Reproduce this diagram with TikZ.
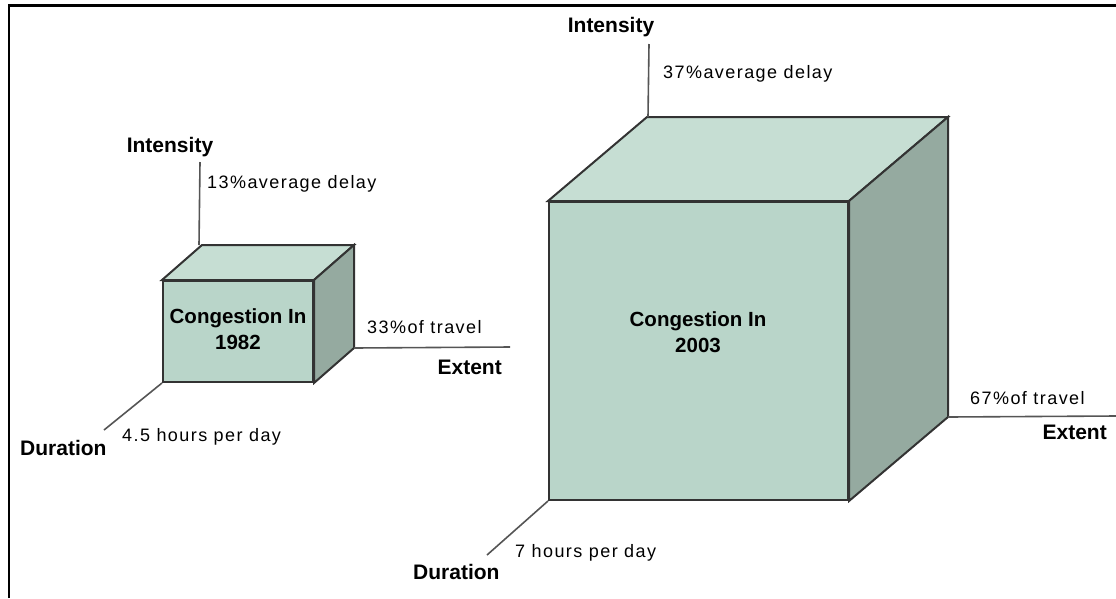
\documentclass[tikz,border=0pt]{standalone}
\usepackage{fontspec}
\usetikzlibrary{calc}
\setmainfont{Liberation Sans}
\newfontfamily\lblfont[LetterSpace=8]{Liberation Sans}
\definecolor{frontc}{HTML}{B9D5C9}
\definecolor{topc}{HTML}{C6DED3}
\definecolor{sidec}{HTML}{95AAA0}
\definecolor{edgec}{HTML}{333333}
\definecolor{axisc}{HTML}{555555}
\tikzset{
  face/.style={draw=edgec, line width=2pt, line join=miter},
  frontface/.style={face, fill=frontc, rectangle, inner sep=0pt},
  axisline/.style={draw=axisc, line width=1.6pt},
  val/.style={inner sep=0pt, text height=13pt, text depth=0pt, font=\lblfont\fontsize{18pt}{20pt}\selectfont},
  axname/.style={inner sep=0pt, text height=15pt, text depth=0pt, font=\bfseries\fontsize{21pt}{23pt}\selectfont},
  cubelabel/.style={inner sep=0pt, align=center, font=\bfseries\fontsize{20.5pt}{26pt}\selectfont},
  frame/.style={draw=black, line width=2.6pt}
}
\begin{document}
\begin{tikzpicture}[x=1pt,y=-1pt]
\useasboundingbox (0,0) rectangle (1116,598);
% frame
\coordinate (fl) at (9,598);
\coordinate (fc) at (9,5.5);
\coordinate (fr) at (1116,5.5);
\draw[frame] (fl) -- (fc) -- (fr);

% ---------- small cube (1982) ----------
\node[frontface, minimum width=150pt, minimum height=101pt] (f1) at (238,331.5) {};
\coordinate (t1l) at ($(f1.north west)+(40,-35)$);
\coordinate (t1r) at ($(f1.north east)+(40,-35)$);
\coordinate (b1r) at ($(f1.south east)+(40,-35)$);
\filldraw[face, fill=topc] (f1.north west) -- (t1l) -- (t1r) -- (f1.north east) -- cycle;
\filldraw[face, fill=sidec] (f1.north east) -- (t1r) -- (b1r) -- (f1.south east) -- cycle;
\node[cubelabel] (l1) at (238,329) {Congestion In\\1982};
% axes
\coordinate (i1) at (200,162);
\coordinate (e1) at (510,347);
\coordinate (d1) at (104,430);
\draw[axisline] ($(t1l)+(-3,0)$) -- (i1);
\draw[axisline] (b1r) -- (e1);
\draw[axisline] (f1.south west) -- (d1);
\node[axname, anchor=center] (n1i) at (170,145) {Intensity};
\node[val, anchor=west] (v1i) at (207,182) {13\%average delay};
\node[val, anchor=west] (v1e) at (367,327) {33\%of travel};
\node[axname, anchor=east] (n1e) at (502,367) {Extent};
\node[val, anchor=west] (v1d) at (122,435) {4.5 hours per day};
\node[axname, anchor=west] (n1d) at (20,448) {Duration};

% ---------- large cube (2003) ----------
\node[frontface, minimum width=299pt, minimum height=298pt] (f2) at (698.5,351) {};
\coordinate (t2l) at ($(f2.north west)+(99,-84)$);
\coordinate (t2r) at ($(f2.north east)+(99,-84)$);
\coordinate (b2r) at ($(f2.south east)+(99,-84)$);
\filldraw[face, fill=topc] (f2.north west) -- (t2l) -- (t2r) -- (f2.north east) -- cycle;
\filldraw[face, fill=sidec] (f2.north east) -- (t2r) -- (b2r) -- (f2.south east) -- cycle;
\node[cubelabel] (l2) at (698,332) {Congestion In\\2003};
% axes
\coordinate (i2) at (649,44);
\coordinate (e2) at (1116,416);
\coordinate (d2) at (487,555);
\draw[axisline] ($(t2l)+(1,0)$) -- (i2);
\draw[axisline] (b2r) -- (e2);
\draw[axisline] (f2.south west) -- (d2);
\node[axname, anchor=center] (n2i) at (611,25) {Intensity};
\node[val, anchor=west] (v2i) at (663,72) {37\%average delay};
\node[val, anchor=west] (v2e) at (970,398) {67\%of travel};
\node[axname, anchor=east] (n2e) at (1107,432) {Extent};
\node[val, anchor=west] (v2d) at (515,551) {7 hours per day};
\node[axname, anchor=west] (n2d) at (413,572) {Duration};
\end{tikzpicture}
\end{document}
